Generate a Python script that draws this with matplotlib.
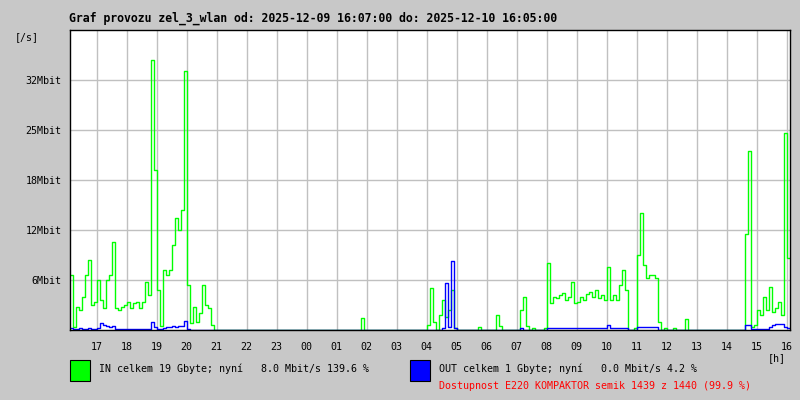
import matplotlib
matplotlib.use("Agg")
import matplotlib.pyplot as plt
import numpy as np

# 6-minute samples starting 2025-12-09 16:07, values in Mbit/s
START_HOUR = 16 + 7 / 60
STEP_HOURS = 0.1

IN_MBIT = [
    6.9, 0.4, 2.9, 2.5, 4.1, 6.9, 8.7, 3.1, 3.5, 6.2,
    3.7, 2.7, 6.2, 6.9, 11.0, 2.7, 2.5, 2.9, 3.1, 3.5,
    2.7, 3.4, 3.5, 2.7, 3.5, 6.0, 4.4, 33.8, 20.0, 5.0,
    0.5, 7.5, 6.9, 7.5, 10.6, 14.0, 12.5, 15.0, 32.4, 5.6,
    0.9, 2.9, 1.0, 2.1, 5.6, 3.1, 2.7, 0.6, 0, 0,
    0, 0, 0, 0, 0, 0, 0, 0, 0, 0,
    0, 0, 0, 0, 0, 0, 0, 0, 0, 0,
    0, 0, 0, 0, 0, 0, 0, 0, 0, 0,
    0, 0, 0, 0, 0, 0, 0, 0, 0, 0,
    0, 0, 0, 0, 0, 0, 0, 1.5, 0, 0,
    0, 0, 0, 0, 0, 0, 0, 0, 0, 0,
    0, 0, 0, 0, 0, 0, 0, 0, 0, 0.6,
    5.2, 1.0, 0, 1.9, 3.7, 1.6, 2.5, 5.0, 0.3, 0,
    0, 0, 0, 0, 0, 0, 0.4, 0, 0, 0,
    0, 0, 1.9, 0.5, 0, 0, 0, 0, 0, 0,
    2.5, 4.1, 0.5, 0, 0.3, 0, 0, 0, 0.3, 8.4,
    3.4, 4.1, 4.0, 4.4, 4.6, 3.7, 4.1, 6.0, 3.4, 3.5,
    4.1, 3.7, 4.5, 4.7, 4.1, 5.0, 4.0, 4.4, 3.7, 7.9,
    3.7, 4.4, 3.7, 5.6, 7.5, 5.0, 0, 0, 0.3, 9.4,
    14.6, 8.1, 6.5, 6.9, 6.9, 6.5, 1.0, 0, 0.3, 0,
    0, 0.2, 0, 0, 0, 1.4, 0, 0, 0, 0,
    0, 0, 0, 0, 0, 0, 0, 0, 0, 0,
    0, 0, 0, 0, 0, 12.0, 22.4, 0.4, 0.6, 2.5,
    1.9, 4.1, 2.5, 5.4, 2.2, 2.7, 3.5, 1.9, 24.6, 9.0,
]

OUT_MBIT = [
    0.2, 0.1, 0.1, 0.2, 0.1, 0.1, 0.2, 0.1, 0.1, 0.2,
    0.9, 0.6, 0.5, 0.4, 0.5, 0.1, 0.1, 0.1, 0.1, 0.1,
    0.1, 0.1, 0.1, 0.1, 0.1, 0.1, 0.1, 1.0, 0.4, 0.1,
    0.1, 0.3, 0.4, 0.4, 0.5, 0.4, 0.5, 0.5, 1.1, 0.1,
    0, 0, 0, 0, 0, 0, 0, 0, 0, 0,
    0, 0, 0, 0, 0, 0, 0, 0, 0, 0,
    0, 0, 0, 0, 0, 0, 0, 0, 0, 0,
    0, 0, 0, 0, 0, 0, 0, 0, 0, 0,
    0, 0, 0, 0, 0, 0, 0, 0, 0, 0,
    0, 0, 0, 0, 0, 0, 0, 0, 0, 0,
    0, 0, 0, 0, 0, 0, 0, 0, 0, 0,
    0, 0, 0, 0, 0, 0, 0, 0, 0, 0,
    0, 0, 0, 0, 0.3, 5.9, 0.4, 8.6, 0.2, 0,
    0, 0, 0, 0, 0, 0, 0, 0, 0, 0,
    0, 0, 0, 0, 0, 0, 0, 0, 0, 0,
    0.2, 0, 0, 0, 0, 0, 0, 0, 0, 0.3,
    0.2, 0.2, 0.2, 0.2, 0.2, 0.2, 0.2, 0.2, 0.2, 0.2,
    0.2, 0.2, 0.2, 0.2, 0.2, 0.2, 0.2, 0.2, 0.2, 0.6,
    0.2, 0.2, 0.2, 0.2, 0.2, 0.2, 0, 0, 0, 0.4,
    0.4, 0.4, 0.4, 0.4, 0.4, 0.4, 0, 0, 0, 0,
    0, 0, 0, 0, 0, 0, 0, 0, 0, 0,
    0, 0, 0, 0, 0, 0, 0, 0, 0, 0,
    0, 0, 0, 0, 0, 0.6, 0.6, 0.1, 0.1, 0.1,
    0.1, 0.1, 0.1, 0.4, 0.6, 0.7, 0.8, 0.7, 0.4, 0.2,
]

Y_TICKS = [6.25, 12.5, 18.75, 25.0, 31.25]
Y_LABELS = ["6Mbit", "12Mbit", "18Mbit", "25Mbit", "32Mbit"]
X_TICKS = list(range(17, 41))
X_LABELS = ["17", "18", "19", "20", "21", "22", "23", "00", "01", "02", "03", "04",
            "05", "06", "07", "08", "09", "10", "11", "12", "13", "14", "15", "16"]

TITLE = "Graf provozu zel_3_wlan od: 2025-12-09 16:07:00 do: 2025-12-10 16:05:00"
IN_TEXT = "IN celkem 19 Gbyte; nyní   8.0 Mbit/s 139.6 %"
OUT_TEXT = "OUT celkem 1 Gbyte; nyní   0.0 Mbit/s 4.2 %"
AVAIL_TEXT = "Dostupnost E220 KOMPAKTOR semik 1439 z 1440 (99.9 %)"

BG = "#c8c8c8"
GRID = "#c0c0c0"
GREEN = "#00ff00"
BLUE = "#0000ff"
MONO = "DejaVu Sans Mono"

W, H = 800, 400


def fx(px):
    return px / W


def fy(py):
    return 1 - py / H


def main():
    fig = plt.figure(figsize=(8, 4), dpi=100, facecolor=BG)
    ax = fig.add_axes([fx(70), fy(330), 720 / W, 300 / H])
    ax.set_facecolor("white")

    t = START_HOUR + STEP_HOURS * np.arange(len(IN_MBIT) + 1)
    vin = np.append(IN_MBIT, IN_MBIT[-1])
    vout = np.append(OUT_MBIT, OUT_MBIT[-1])
    ax.step(t, vin, where="post", color=GREEN, lw=1.0, zorder=2)
    ax.step(t, vout, where="post", color=BLUE, lw=1.0, zorder=2.1)

    ax.set_xlim(START_HOUR, START_HOUR + 24)
    ax.set_ylim(0, 37.5)
    ax.set_xticks(X_TICKS)
    ax.set_xticklabels(X_LABELS, family=MONO, fontsize=7.2)
    ax.set_yticks(Y_TICKS)
    ax.set_yticklabels(Y_LABELS, family=MONO, fontsize=7.2)
    ax.tick_params(axis="x", length=0, pad=8.5)
    ax.tick_params(axis="y", length=0, pad=6)
    ax.grid(True, color=GRID, lw=1.0, zorder=0)
    ax.set_axisbelow(True)
    for sp in ax.spines.values():
        sp.set_color("black")
        sp.set_linewidth(1.0)
        sp.set_zorder(3)

    fig.text(fx(69), fy(18), TITLE, family=MONO, weight="bold", fontsize=8.3,
             ha="left", va="center")
    fig.text(fx(27), fy(37), "[/s]", family=MONO, fontsize=7.2, ha="center", va="center")
    fig.text(fx(777), fy(358), "[h]", family=MONO, fontsize=7.2, ha="center", va="center")

    for x0, color, label in [(70, GREEN, IN_TEXT), (410, BLUE, OUT_TEXT)]:
        fig.patches.append(plt.Rectangle((fx(x0), fy(381)), 20 / W, 21 / H,
                                         transform=fig.transFigure, facecolor=color,
                                         edgecolor="black", lw=0.8))
        fig.text(fx(x0 + 29), fy(369), label, family=MONO, fontsize=7.2,
                 ha="left", va="center")
    fig.text(fx(439), fy(386), AVAIL_TEXT, family=MONO, fontsize=7.2,
             color="#ff0000", ha="left", va="center")

    fig.savefig("out.png", dpi=100, facecolor=BG)
    plt.close(fig)


if __name__ == "__main__":
    main()
